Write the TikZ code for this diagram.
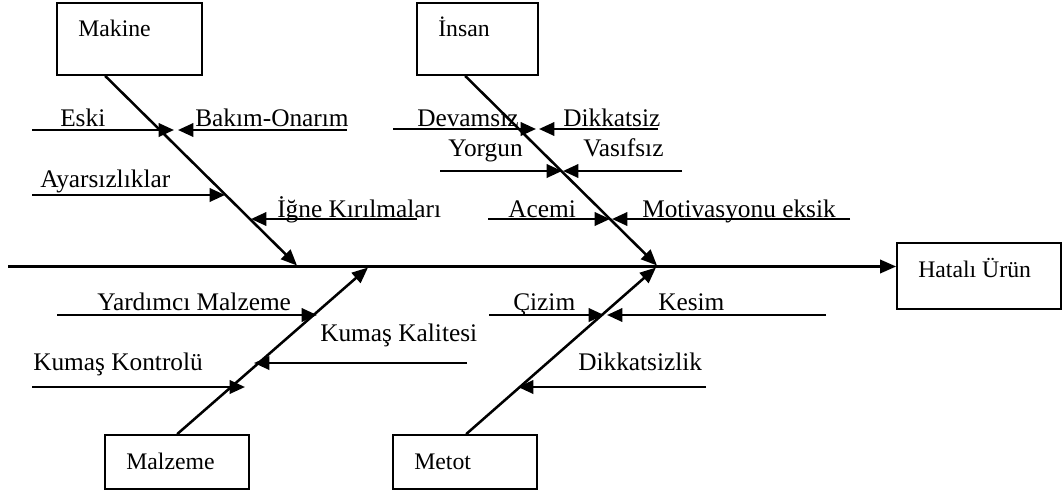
\documentclass[tikz,border=0pt]{standalone}
\usepackage{fontspec}
\setmainfont{Liberation Serif}
\usetikzlibrary{arrows.meta,calc}
\begin{document}
\begin{tikzpicture}[x=0.75pt,y=-0.75pt,
  box/.style={draw,line width=1.3pt,rectangle,inner sep=0pt},
  bone/.style={line width=1.9pt,-{Triangle[length=12pt,width=10pt]}},
  twig/.style={line width=1.9pt,-{Triangle[length=11.5pt,width=10pt]}},
  lab/.style={anchor=base west,inner sep=0pt,font=\fontsize{19}{22}\selectfont},
  blab/.style={anchor=base west,inner sep=0pt,font=\fontsize{17.8}{20}\selectfont}]
\useasboundingbox (0,0) rectangle (1062,493);

% boxes
\node[box,minimum width=108.75pt,minimum height=54pt] (mak) at (129.5,39) {};
\node[box,minimum width=90.75pt,minimum height=54pt] (ins) at (477.5,39) {};
\node[box,minimum width=108pt,minimum height=40.5pt] (mal) at (177,462) {};
\node[box,minimum width=108pt,minimum height=40.5pt] (met) at (465,462) {};
\node[box,minimum width=123pt,minimum height=49.5pt] (hat) at (979,276) {};

\node[blab] (tmak) at (78,36) {Makine};
\node[blab] (tins) at (438,36) {İnsan};
\node[blab] (tmal) at (126,469) {Malzeme};
\node[blab] (tmet) at (414,469) {Metot};
\node[blab] (that) at (918,277) {Hatalı Ürün};

% spine
\coordinate (s0) at (8,266.5);
\draw[bone] (s0) -- (s0 -| hat.west);

% bone tips on spine
\coordinate (p1) at (297,265.5);
\coordinate (p2) at (657,265.5);
\coordinate (p3) at (368,267.5);
\coordinate (p4) at (656,267.5);

\draw[bone] ($(mak.south west)+(49,0)$) -- (p1);
\draw[bone] ($(ins.south west)+(49,0)$) -- (p2);
\draw[bone] ($(mal.north west)+(73,0)$) -- (p3);
\draw[bone] ($(met.north west)+(74,0)$) -- (p4);

% Makine branches
\coordinate (a1) at (32,130);   \coordinate (a1t) at (174,130);
\coordinate (a2) at (347,130);  \coordinate (a2t) at (178,130);
\coordinate (a3) at (32,195);   \coordinate (a3t) at (225,195);
\coordinate (a4) at (417,219);  \coordinate (a4t) at (251,219);
\draw[twig] (a1) -- (a1t);
\draw[twig] (a2) -- (a2t);
\draw[twig] (a3) -- (a3t);
\draw[twig] (a4) -- (a4t);
\node[lab] (teski) at (60,126) {Eski};
\node[lab] (tbak) at (195,126) {Bakım-Onarım};
\node[lab] (tayr) at (40,187) {Ayarsızlıklar};
\node[lab] (tign) at (277,217) {İğne Kırılmaları};

% Insan branches
\coordinate (b1) at (393,129);  \coordinate (b1t) at (536,129);
\coordinate (b2) at (658,129);  \coordinate (b2t) at (539,129);
\coordinate (b3) at (440,171);  \coordinate (b3t) at (562,171);
\coordinate (b4) at (682,171);  \coordinate (b4t) at (563,171);
\coordinate (b5) at (488,219);  \coordinate (b5t) at (610,219);
\coordinate (b6) at (850,219);  \coordinate (b6t) at (612,219);
\draw[twig] (b1) -- (b1t);
\draw[twig] (b2) -- (b2t);
\draw[twig] (b3) -- (b3t);
\draw[twig] (b4) -- (b4t);
\draw[twig] (b5) -- (b5t);
\draw[twig] (b6) -- (b6t);
\node[lab] (tdev) at (417,126) {Devamsız};
\node[lab] (tdik) at (563,126) {Dikkatsiz};
\node[lab] (tyor) at (448,156) {Yorgun};
\node[lab] (tvas) at (583,156) {Vasıfsız};
\node[lab] (tace) at (508,217) {Acemi};
\node[lab] (tmot) at (642,217) {Motivasyonu eksik};

% Malzeme branches
\coordinate (c1) at (57,315);   \coordinate (c1t) at (317,315);
\coordinate (c2) at (467,363);  \coordinate (c2t) at (254,363);
\coordinate (c3) at (32,387);   \coordinate (c3t) at (245,387);
\draw[twig] (c1) -- (c1t);
\draw[twig] (c2) -- (c2t);
\draw[twig] (c3) -- (c3t);
\node[lab] (tyar) at (97,310) {Yardımcı Malzeme};
\node[lab] (tkal) at (320,341) {Kumaş Kalitesi};
\node[lab] (tkon) at (33,370) {Kumaş Kontrolü};

% Metot branches
\coordinate (d1) at (489,315);  \coordinate (d1t) at (604,315);
\coordinate (d2) at (826,315);  \coordinate (d2t) at (607,315);
\coordinate (d3) at (706,387);  \coordinate (d3t) at (518,387);
\draw[twig] (d1) -- (d1t);
\draw[twig] (d2) -- (d2t);
\draw[twig] (d3) -- (d3t);
\node[lab] (tciz) at (513,310) {Çizim};
\node[lab] (tkes) at (658,310) {Kesim};
\node[lab] (tdkz) at (578,370) {Dikkatsizlik};
\end{tikzpicture}
\end{document}
